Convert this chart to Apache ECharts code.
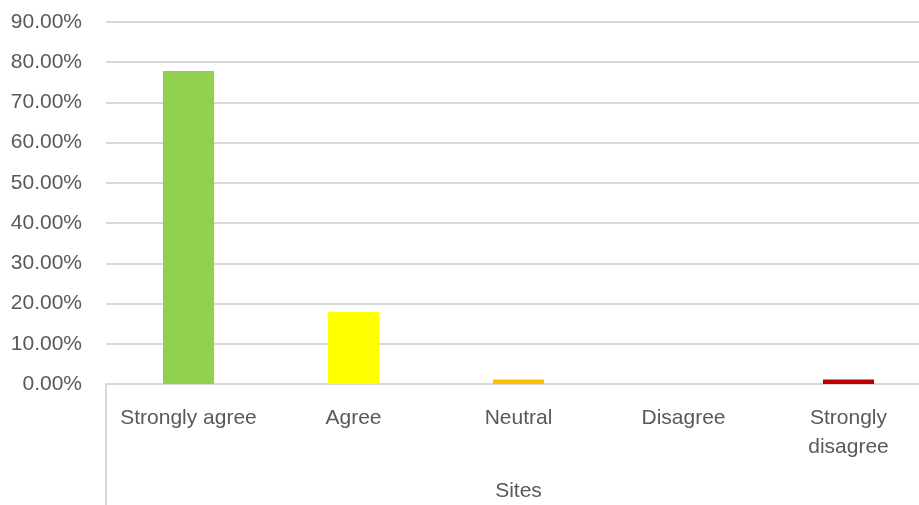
<!DOCTYPE html>
<html>
<head>
<meta charset="utf-8">
<script src="https://cdn.jsdelivr.net/npm/echarts@6/dist/echarts.min.js"></script>
<style>html,body{margin:0;padding:0;background:#fff}#c{width:919px;height:505px}</style>
</head>
<body>
<div id="c"></div>
<script>
const categories = ['Strongly agree', 'Agree', 'Neutral', 'Disagree', 'Strongly\ndisagree'];
const values = [77.8, 17.9, 1.1, 0, 1.1];
const colors = ['#92D050', '#FFFF00', '#FFC000', '#FFC000', '#C00000'];
const yTicks = { min: 0, max: 90, interval: 10 };
const axisName = 'Sites';

const chart = echarts.init(document.getElementById('c'));
const font = 'Liberation Sans, Arial, sans-serif';
chart.setOption({
  animation: false,
  grid: { left: 106, right: -12, top: 22, bottom: 121, containLabel: false, outerBoundsMode: 'none' },
  xAxis: {
    type: 'category',
    data: categories,
    boundaryGap: true,
    name: axisName,
    nameLocation: 'middle',
    nameGap: 97,
    nameTextStyle: { color: '#595959', fontSize: 21, fontFamily: font },
    axisLine: { show: true, lineStyle: { color: '#d9d9d9', width: 2 } },
    axisTick: { show: true, length: 121, interval: function (i) { return i === 0; }, lineStyle: { color: '#d9d9d9', width: 2 } },
    axisLabel: { color: '#595959', fontSize: 21, fontFamily: font, margin: 20, lineHeight: 29, verticalAlign: 'top', interval: 0 }
  },
  yAxis: {
    type: 'value',
    min: yTicks.min, max: yTicks.max, interval: yTicks.interval,
    axisLine: { show: false },
    axisTick: { show: false },
    splitLine: { lineStyle: { color: '#d9d9d9', width: 2 } },
    axisLabel: { color: '#595959', fontSize: 21, fontFamily: font, margin: 24, formatter: v => v.toFixed(2) + '%' }
  },
  series: [{
    type: 'bar',
    barWidth: '31%',
    data: values.map((v, i) => ({ value: v, itemStyle: { color: colors[i] } }))
  }]
});
</script>
</body>
</html>
